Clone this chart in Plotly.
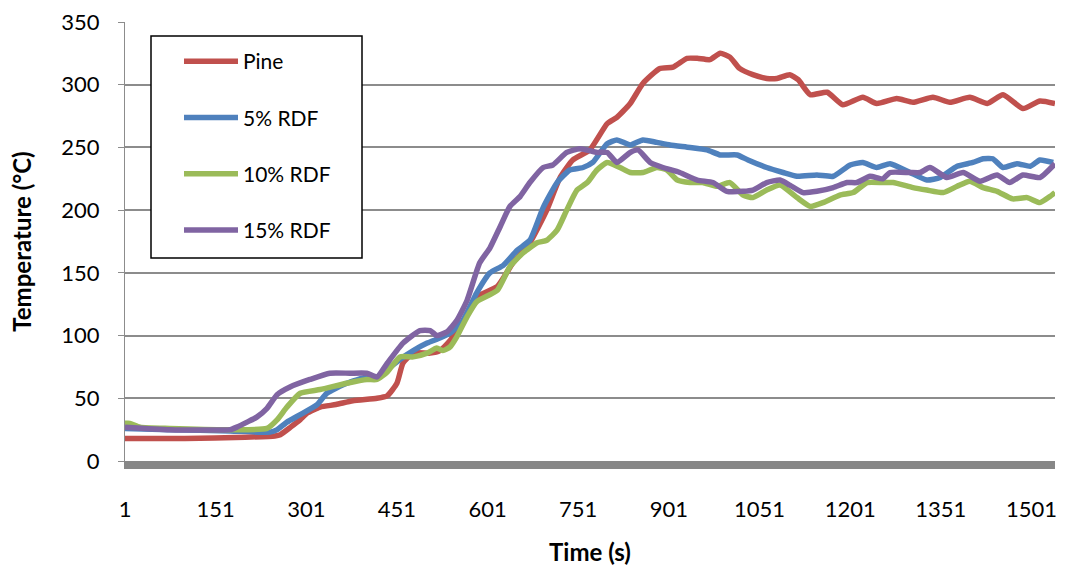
import plotly.graph_objects as go

# Time (s) / temperature (°C) readings for each fuel blend
pine_t = [1, 100, 200, 249, 258, 275, 291, 302, 324, 350, 378, 418, 435, 451, 461, 478, 506, 522, 539, 560,
          583, 617, 643, 671, 699, 721, 742, 770, 799, 815, 837, 858, 886, 908, 931, 948, 969, 986, 1002, 1018,
          1040, 1063, 1080, 1101, 1115, 1135, 1163, 1189, 1222, 1245, 1278, 1305, 1338, 1366, 1399, 1428, 1454,
          1487, 1515, 1540]
pine_T = [18, 18, 19, 20, 21, 27, 33, 38, 43, 45, 48, 50, 52, 62, 78, 86, 86, 88, 96, 110,
          131, 139, 158, 174, 200, 226, 240, 248, 269, 274, 285, 301, 313, 314, 321, 321, 320, 325, 322, 313,
          308, 305, 305, 308, 304, 292, 294, 284, 290, 285, 289, 286, 290, 286, 290, 285, 292,
          281, 287, 285]

rdf5_t = [1, 75, 175, 241, 253, 269, 291, 319, 335, 368, 401, 418, 435, 456, 478, 501, 522, 539, 560, 583,
          605, 627, 650, 671, 693, 716, 737, 759, 775, 799, 815, 837, 858, 881, 903, 936, 964, 986, 1014, 1032,
          1063, 1090, 1113, 1146, 1173, 1201, 1222, 1245, 1267, 1300, 1328, 1350, 1378, 1404, 1421, 1437, 1454,
          1477, 1499, 1515, 1537]
rdf5_T = [26, 25, 24, 23, 25, 31, 37, 45, 54, 62, 67, 67, 73, 81, 88, 94, 98, 102, 112, 134,
          150, 156, 168, 176, 202, 222, 232, 234, 238, 253, 256, 252, 256, 254, 252, 250, 248, 244, 244, 240,
          234, 230, 227, 228, 227, 236, 238, 234, 237, 230, 224, 226, 235, 238, 241, 241, 234,
          237, 235, 240, 238]

rdf10_t = [1, 9, 26, 75, 175, 236, 253, 269, 291, 324, 368, 401, 418, 435, 456, 478, 501, 517, 527, 539,
           550, 567, 583, 617, 638, 660, 683, 699, 716, 732, 749, 766, 782, 799, 820, 837, 858, 881, 898, 915,
           936, 957, 981, 1002, 1024, 1040, 1063, 1085, 1113, 1135, 1156, 1184, 1206, 1229, 1255, 1272, 1305,
           1328, 1355, 1378, 1399, 1421, 1444, 1470, 1494, 1515, 1532, 1540]
rdf10_T = [30, 30, 27, 26, 25, 26, 33, 43, 54, 57, 62, 65, 65, 71, 83, 83, 86, 90, 88, 91,
           99, 115, 127, 136, 155, 166, 174, 176, 184, 200, 216, 222, 232, 238, 234, 230, 230, 234, 232, 224,
           222, 222, 219, 222, 212, 210, 216, 220, 210, 203, 206, 212, 214, 222, 222, 222, 218,
           216, 214, 219, 223, 218, 215, 209, 210, 206, 211, 214]

rdf15_t = [1, 75, 175, 186, 203, 219, 236, 253, 274, 307, 340, 373, 401, 418, 435, 461, 489, 506, 517, 534,
           550, 567, 588, 605, 622, 638, 655, 671, 693, 709, 732, 754, 782, 799, 815, 837, 850, 870, 891, 919,
           948, 974, 997, 1024, 1040, 1063, 1085, 1101, 1123, 1146, 1173, 1196, 1212, 1234, 1255, 1267, 1300,
           1317, 1333, 1361, 1388, 1416, 1444, 1465, 1487, 1515, 1540]
rdf15_T = [27, 25, 25, 27, 31, 35, 42, 53, 59, 65, 70, 70, 70, 67, 78, 94, 104, 104, 100, 103,
           112, 128, 158, 170, 187, 203, 211, 222, 234, 236, 246, 249, 246, 246, 238, 246, 248, 238, 234, 230,
           224, 222, 215, 215, 216, 222, 224, 220, 214, 215, 218, 222, 222, 227, 225, 230, 230,
           230, 234, 226, 230, 223, 228, 222, 228, 226, 237]

series_names = ["Pine", "5% RDF", "10% RDF", "15% RDF"]
series_colors = ["#C0504D", "#4F81BD", "#9BBB59", "#8064A2"]
series_data = [(pine_t, pine_T), (rdf5_t, rdf5_T), (rdf10_t, rdf10_T), (rdf15_t, rdf15_T)]

x_ticks = [1, 151, 301, 451, 601, 751, 901, 1051, 1201, 1351, 1501]
y_ticks = [0, 50, 100, 150, 200, 250, 300, 350]

FONT = "Lato, 'Open Sans', sans-serif"

fig = go.Figure()
for name, color, (t, temp) in zip(series_names, series_colors, series_data):
    fig.add_trace(go.Scatter(
        x=t, y=temp, name=name, mode="lines", legendgroup=name,
        line=dict(color=color, width=5.5, shape="spline", smoothing=0.5),
    ))

W, H = 1068, 574
L, R, T, B = 125, 13, 22, 113
pw, ph = W - L - R, H - T - B

def px_x(p):
    return (p - L) / pw

def px_y(p):
    return (H - B - p) / ph

fig.update_layout(
    width=W, height=H,
    margin=dict(l=L, r=R, t=T, b=B, autoexpand=False),
    paper_bgcolor="white", plot_bgcolor="white",
    font=dict(family=FONT, size=21, color="black"),
    showlegend=True,
    legend=dict(
        x=px_x(179), y=px_y(41), xanchor="left", yanchor="top",
        bgcolor="rgba(0,0,0,0)", borderwidth=0,
        font=dict(family=FONT, size=21, color="black"),
        tracegroupgap=26, itemwidth=54,
    ),
    xaxis=dict(
        range=[1, 1540], tickvals=x_ticks, ticktext=[str(v) for v in x_ticks],
        showgrid=False, zeroline=False, automargin=False,
        showline=True, linecolor="#878787", linewidth=8,
        ticks="", ticklabelstandoff=22,
        title=dict(text="<b>Time (s)</b>", font=dict(family=FONT, size=24), standoff=26),
        tickfont=dict(family=FONT, size=22),
    ),
    yaxis=dict(
        range=[0, 350], tickvals=y_ticks, automargin=False,
        showgrid=True, gridcolor="#8C8C8C", gridwidth=1.5,
        zeroline=False, showline=True, linecolor="#8C8C8C", linewidth=1.2,
        ticks="outside", ticklen=6, tickcolor="#8C8C8C", ticklabelstandoff=14,
        title=dict(text="<b>Temperature (°C)</b>", font=dict(family=FONT, size=24), standoff=22),
        tickfont=dict(family=FONT, size=22),
    ),
    shapes=[dict(
        type="rect", xref="paper", yref="paper",
        x0=px_x(151), x1=px_x(362), y0=px_y(258), y1=px_y(36),
        fillcolor="white", line=dict(color="black", width=1.5), layer="above",
    )],
)

fig.write_html("out.html")
